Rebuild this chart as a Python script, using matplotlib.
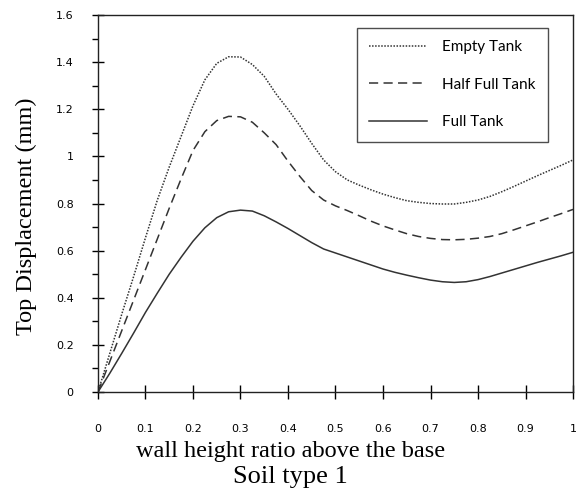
import numpy as np
import matplotlib
matplotlib.use('Agg')
from matplotlib import pyplot as plt
from matplotlib.ticker import MultipleLocator

# values (x = wall height ratio)
ratio = [0, 0.025, 0.05, 0.075, 0.1, 0.125, 0.15, 0.175, 0.2, 0.225, 0.25,
         0.275, 0.3, 0.325, 0.35, 0.375, 0.4, 0.425, 0.45, 0.475, 0.5,
         0.525, 0.55, 0.575, 0.6, 0.625, 0.65, 0.675, 0.7, 0.725, 0.75,
         0.775, 0.8, 0.825, 0.85, 0.875, 0.9, 0.925, 0.95, 0.975, 1.0]
empty_tank = [0, 0.165, 0.33, 0.49, 0.655, 0.815, 0.955, 1.085, 1.215, 1.325, 1.395,
              1.423, 1.422, 1.39, 1.34, 1.265, 1.20, 1.13, 1.055, 0.985, 0.935,
              0.90, 0.878, 0.858, 0.84, 0.825, 0.812, 0.805, 0.80, 0.798, 0.798,
              0.805, 0.815, 0.83, 0.85, 0.872, 0.895, 0.918, 0.94, 0.962, 0.985]
half_tank = [0, 0.13, 0.26, 0.39, 0.52, 0.65, 0.78, 0.905, 1.025, 1.105, 1.152,
             1.17, 1.168, 1.145, 1.10, 1.05, 0.98, 0.915, 0.855, 0.815, 0.79,
             0.77, 0.748, 0.725, 0.705, 0.688, 0.672, 0.66, 0.652, 0.647, 0.646,
             0.648, 0.653, 0.66, 0.672, 0.688, 0.705, 0.722, 0.74, 0.757, 0.775]
full_tank = [0, 0.08, 0.164, 0.25, 0.338, 0.42, 0.50, 0.572, 0.64, 0.697, 0.74,
             0.765, 0.772, 0.768, 0.748, 0.722, 0.694, 0.664, 0.634, 0.607, 0.59,
             0.573, 0.556, 0.539, 0.522, 0.508, 0.496, 0.485, 0.475, 0.468, 0.465,
             0.468, 0.477, 0.49, 0.505, 0.52, 0.535, 0.55, 0.564, 0.578, 0.593]

col = '#333333'

fig = plt.figure(figsize=(5.85, 4.94), dpi=100)
ax = fig.add_axes([0.1675, 0.2065, 0.812, 0.763])

ax.plot(ratio, empty_tank, color=col, lw=1.1, ls=(0, (1.0, 1.0)), label='Empty Tank')
ax.plot(ratio, half_tank, color=col, lw=1.1, ls=(0, (6, 3.5)), label='Half Full Tank')
ax.plot(ratio, full_tank, color=col, lw=1.1, ls='-', label='Full Tank')

ax.set_xlim(0, 1)
ax.set_ylim(0, 1.6)
ax.yaxis.set_minor_locator(MultipleLocator(0.1))

xt = np.round(np.arange(0, 1.01, 0.1), 1)
ax.set_xticks(xt)
ax.set_xticklabels(['%g' % v for v in xt])
yt = np.round(np.arange(0, 1.61, 0.2), 1)
ax.set_yticks(yt)
ax.set_yticklabels(['%g' % v for v in yt])

ax.tick_params(axis='x', direction='inout', length=10, width=1, pad=18, labelsize=8)
ax.tick_params(axis='y', which='major', direction='inout', length=9, width=1, pad=13, labelsize=8)
ax.tick_params(axis='y', which='minor', direction='out', length=4, width=1)
for s in ax.spines.values():
    s.set_linewidth(1)
    s.set_color('#222222')

ax.set_ylabel('Top Displacement (mm)', family='Liberation Serif', fontsize=17.5)
ax.yaxis.set_label_coords(-0.128, 0.465)

fig.text(0.497, 0.087, 'wall height ratio above the base', family='Liberation Serif',
         fontsize=17.5, ha='center', va='center')
fig.text(0.496, 0.035, 'Soil type 1', family='Liberation Serif',
         fontsize=19, ha='center', va='center')

leg = ax.legend(loc='upper left', bbox_to_anchor=(0.545, 0.966), frameon=True,
                fancybox=False, edgecolor='#222222', prop={'family': 'Lato', 'size': 11},
                handlelength=3.8, handletextpad=1.0, labelspacing=1.55,
                borderpad=0.8, borderaxespad=0)
leg.get_frame().set_linewidth(1)

plt.savefig('out.png', dpi=100)
